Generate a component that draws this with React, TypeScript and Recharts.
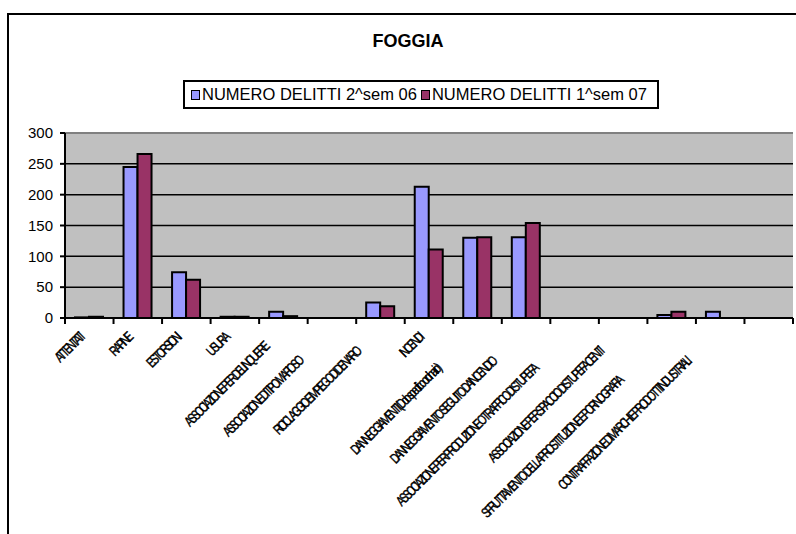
import { Bar, BarChart, CartesianGrid, Legend, ReferenceLine, XAxis, YAxis } from "recharts";

const CATEGORIES = [
  "ATTENTATI",
  "RAPINE",
  "ESTORSIONI",
  "USURA",
  "ASSOCIAZIONE PER DELINQUERE",
  "ASSOCIAZIONE DI TIPO MAFIOSO",
  "RICICLAGGIO E IMPIEGO DI DENARO",
  "INCENDI",
  "DANNEGGIAMENTI (Dolo specifico ordinario)",
  "DANNEGGIAMENTO SEGUITO DA INCENDIO",
  "ASSOCIAZIONE PER PRODUZIONE O TRAFFICO DI STUPEFA",
  "ASSOCIAZIONE PER SPACCIO DI STUPEFACENTI",
  "SFRUTTAMENTO DELLA PROSTITUZIONE E PORNOGRAFIA",
  "CONTRAFFAZIONE DI MARCHI E PRODOTTI INDUSTRIALI",
  "",
];

const SEM2_06 = [1, 245, 74, 2, 10, 0, 25, 213, 130, 131, 0, 0, 5, 10, 0];
const SEM1_07 = [2, 266, 62, 2, 3, 0, 19, 111, 131, 154, 0, 0, 10, 0, 0];

const SERIES_NAMES = ["NUMERO DELITTI 2^sem 06", "NUMERO DELITTI 1^sem 07"];
const Y_TICKS = [0, 50, 100, 150, 200, 250, 300];

// layout only: how far each rotated label sits back from the axis
const LABEL_PAD = [0, 0, 0, 0, 13, 33, 20, 0, 44, 34, 44, 20, 61, 34, 0];

const FONT = '"Liberation Sans", Arial, sans-serif';
const BLUE = "#9999FF";
const WINE = "#993366";

const data = CATEGORIES.map((name, i) => ({
  name,
  a: SEM2_06[i],
  b: SEM1_07[i],
}));

function CategoryTick(props: any) {
  const { x, y, payload, index } = props;
  const half = payload && payload.offset ? payload.offset : 24.25;
  const pad = LABEL_PAD[index] || 0;
  const lx = x - 5 - pad * 0.707;
  const ly = y + 21 + pad * 0.707;
  return (
    <g>
      <line x1={x - half} y1={y} x2={x - half} y2={y + 6} stroke="#000" strokeWidth={2} />
      {index === CATEGORIES.length - 1 ? (
        <line x1={x + half} y1={y} x2={x + half} y2={y + 6} stroke="#000" strokeWidth={2} />
      ) : null}
      <text
        transform={`translate(${lx},${ly}) rotate(-45) scale(0.74,1)`}
        textAnchor="end"
        fontSize={14}
        letterSpacing={-3}
        fontFamily={FONT}
        fill="#000"
        stroke="#000"
        strokeWidth={0.45}
      >
        {payload.value}
      </text>
    </g>
  );
}

function LegendBox({ payload }: any) {
  const items = [...(payload || [])].sort(
    (p: any, q: any) => SERIES_NAMES.indexOf(p.value) - SERIES_NAMES.indexOf(q.value)
  );
  return (
    <div
      style={{
        border: "2px solid #000",
        background: "#fff",
        display: "flex",
        alignItems: "center",
        padding: "3px 6px 3px 6px",
        fontFamily: FONT,
        fontSize: 16.5,
        whiteSpace: "nowrap",
      }}
    >
      {items.map((item: any) => (
        <span key={item.value} style={{ display: "inline-flex", alignItems: "center", marginRight: 4 }}>
          <span
            style={{
              display: "inline-block",
              width: 7,
              height: 8,
              background: item.color,
              border: "1.5px solid #000",
              marginRight: 2,
            }}
          />
          {item.value}
        </span>
      ))}
    </div>
  );
}

export default function App() {
  return (
    <div
      style={{
        position: "absolute",
        left: 0,
        top: 0,
        width: 796,
        height: 534,
        overflow: "hidden",
        background: "#fff",
        fontFamily: FONT,
      }}
    >
      <div
        style={{
          position: "absolute",
          left: 7,
          top: 13,
          width: 900,
          height: 700,
          border: "2px solid #000",
        }}
      />
      <div
        style={{
          position: "absolute",
          left: 0,
          top: 31,
          width: 816,
          textAlign: "center",
          fontWeight: "bold",
          fontSize: 18,
        }}
      >
        FOGGIA
      </div>
      <div style={{ position: "absolute", left: 0, top: 0 }}>
        <BarChart
          width={796}
          height={534}
          data={data}
          margin={{ top: 133, right: 3, bottom: 0, left: 0 }}
          barGap={0}
        >
          <CartesianGrid
            yAxisId="l"
            vertical={false}
            fill="#C0C0C0"
            stroke="#000"
            strokeWidth={1.5}
            horizontalValues={[50, 100, 150, 200, 250]}
          />
          <ReferenceLine yAxisId="l" y={300} stroke="#808080" strokeWidth={2} />
          <XAxis
            dataKey="name"
            interval={0}
            axisLine={{ stroke: "#000", strokeWidth: 2 }}
            tickLine={false}
            tickSize={0}
            tickMargin={0}
            tick={<CategoryTick />}
            height={216}
          />
          <YAxis
            yAxisId="l"
            domain={[0, 300]}
            ticks={Y_TICKS}
            width={65}
            axisLine={{ stroke: "#000", strokeWidth: 2 }}
            tickLine={{ stroke: "#000", strokeWidth: 2 }}
            tickSize={5}
            tickMargin={7}
            tick={{ fill: "#000", fontSize: 15, fontFamily: FONT }}
          />
          <YAxis
            yAxisId="r"
            orientation="right"
            domain={[0, 300]}
            width={0}
            tick={false}
            tickLine={false}
            axisLine={{ stroke: "#808080", strokeWidth: 2 }}
          />
          <Legend
            verticalAlign="middle"
            align="center"
            content={<LegendBox />}
            wrapperStyle={{ position: "absolute", top: 80, left: 183, width: "auto" }}
          />
          <Bar
            yAxisId="l"
            dataKey="a"
            name={SERIES_NAMES[0]}
            fill={BLUE}
            stroke="#000"
            strokeWidth={2}
            barSize={14}
            isAnimationActive={false}
          />
          <Bar
            yAxisId="l"
            dataKey="b"
            name={SERIES_NAMES[1]}
            fill={WINE}
            stroke="#000"
            strokeWidth={2}
            barSize={14}
            isAnimationActive={false}
          />
        </BarChart>
      </div>
    </div>
  );
}
